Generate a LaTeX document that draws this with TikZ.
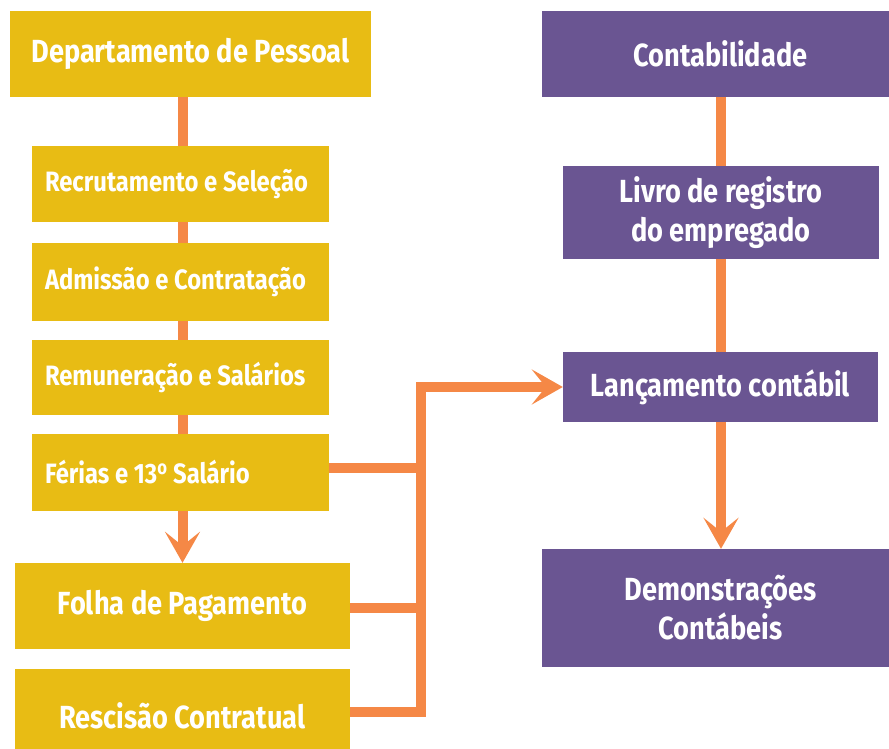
\documentclass[tikz,border=0pt]{standalone}
\usepackage{fontspec}
\setmainfont{Fira Sans}[FakeStretch=0.85]
\usetikzlibrary{arrows.meta}
\definecolor{gold}{RGB}{232,188,20}
\definecolor{violet}{RGB}{106,85,146}
\definecolor{orangeline}{RGB}{245,136,70}
\begin{document}
\begin{tikzpicture}[x=1pt,y=-1pt,
  gbox/.style={rectangle, fill=gold, text=white, inner sep=0pt, font=\fontsize{32}{38}\selectfont\bfseries, align=center},
  sbox/.style={rectangle, fill=gold, text=white, inner xsep=13pt, inner ysep=0pt, minimum width=297pt, text width=271pt, align=flush left, font=\fontsize{28}{32}\selectfont\bfseries},
  pbox/.style={rectangle, fill=violet, text=white, inner sep=0pt, font=\fontsize{32}{39}\selectfont\bfseries, align=center},
  conn/.style={draw=orangeline, line width=10pt},
  arr/.style={-{Stealth[length=31pt,width=35pt,inset=14pt]}}]
\useasboundingbox (0,0) rectangle (889,749);
\clip (0,0) rectangle (889,749);
% left column
\node[gbox, minimum width=361pt, minimum height=86pt] (dept) at (190.5,54) {Departamento de Pessoal};
\node[sbox, minimum height=76pt] (recr) at (180.5,184) {Recrutamento e Seleção};
\node[sbox, minimum height=78pt] (adm) at (180.5,282) {Admissão e Contratação};
\node[sbox, minimum height=75pt] (rem) at (180.5,377.5) {Remuneração e Salários};
\node[sbox, minimum height=77pt] (fer) at (180.5,472.5) {Férias e 13\textsuperscript{o} Salário};
\node[gbox, minimum width=335pt, minimum height=86pt] (folha) at (182.5,606) {Folha de Pagamento};
\node[gbox, minimum width=335pt, minimum height=94pt] (resc) at (182.5,716) {Rescisão Contratual};
% right column
\node[pbox, minimum width=357pt, minimum height=86pt] (cont) at (720.5,54) {Contabilidade};
\node[pbox, minimum width=316pt, minimum height=93pt] (livro) at (721,212.5) {Livro de registro\\do empregado};
\node[pbox, minimum width=315pt, minimum height=70pt] (lanc) at (720.5,387) {Lançamento contábil};
\node[pbox, minimum width=357pt, minimum height=118pt] (demo) at (720.5,608) {Demonstrações\\Contábeis};
% left vertical connectors
\draw[conn] (dept.south -| folha.north) -- (recr.north -| folha.north);
\draw[conn] (recr.south -| folha.north) -- (adm.north -| folha.north);
\draw[conn] (adm.south -| folha.north) -- (rem.north -| folha.north);
\draw[conn] (rem.south -| folha.north) -- (fer.north -| folha.north);
\draw[conn, arr] (fer.south -| folha.north) -- (folha.north);
% bus
\coordinate (bus) at (421,0);
\draw[conn] ([yshift=4.5pt]fer.east) -- ([yshift=4.5pt]fer.east -| bus);
\draw[conn] ([yshift=-2pt]folha.east) -- ([yshift=-2pt]folha.east -| bus);
\draw[conn, arr] ([yshift=4pt]resc.east) -- ([yshift=4pt]resc.east -| bus) |- (lanc.west);
% right vertical connectors
\draw[conn] (cont.south -| livro.north) -- (livro.north);
\draw[conn] (livro.south) -- (lanc.north -| livro.south);
\draw[conn, arr] (lanc.south -| livro.south) -- (demo.north -| livro.south);
\end{tikzpicture}
\end{document}
